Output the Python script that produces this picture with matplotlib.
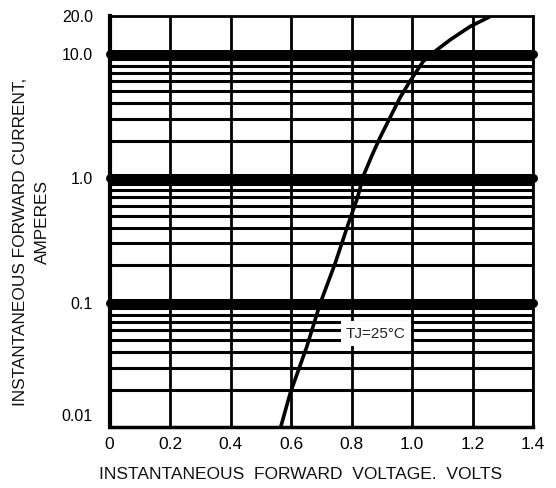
import matplotlib
matplotlib.use('Agg')
import matplotlib.pyplot as plt
from matplotlib.transforms import ScaledTranslation

plt.rcParams['font.family'] = ['Liberation Sans', 'DejaVu Sans']

# forward characteristic (volts, amperes)
vf = [0.566, 0.597, 0.652, 0.696, 0.745, 0.789, 0.820, 0.839, 0.867, 0.894,
      0.927, 0.960, 0.993, 1.037, 1.082, 1.126, 1.192, 1.252]
i_f = [0.01, 0.0186, 0.0441, 0.0978, 0.204, 0.427, 0.698, 1.04, 1.51, 2.11,
       3.05, 4.41, 5.99, 8.66, 10.7, 12.9, 16.5, 19.5]

x_ticks = [0, 0.2, 0.4, 0.6, 0.8, 1.0, 1.2, 1.4]
x_labels = ['0', '0.2', '0.4', '0.6', '0.8', '1.0', '1.2', '1.4']
y_ticks = [0.01, 0.1, 1.0, 10.0, 20.0]
y_labels = ['0.01', '0.1', '1.0', '10.0', '20.0']
decades = [0.01, 0.1, 1.0]
major_lines = [0.1, 1.0, 10.0]


def do_plot():
    fig = plt.figure(figsize=(5.56, 4.88), dpi=100)
    ax = fig.add_axes([0.197, 0.125, 0.7617, 0.842])
    ax.set_yscale('log')
    ax.set_xlim(0, 1.4)
    ax.set_ylim(0.01, 20)

    # minor horizontal grid lines 2..9 in each decade
    for d in decades:
        for k in range(2, 10):
            ax.axhline(d * k, color='black', lw=2.2, zorder=1)
    for y in major_lines:
        ax.axhline(y, color='black', lw=6.5, zorder=1, solid_capstyle='round',
                   clip_on=False)
    for x in x_ticks:
        ax.axvline(x, color='black', lw=2.0, zorder=1)

    ax.plot(vf, i_f, color='black', lw=2.6, zorder=3)

    ax.text(0.881, 0.0562, 'TJ=25°C', fontsize=11, ha='center', va='center',
            color='#222222', zorder=4,
            bbox=dict(facecolor='white', edgecolor='none', pad=4))

    ax.set_xticks(x_ticks)
    ax.set_xticklabels(x_labels)
    ax.set_yticks(y_ticks)
    ax.set_yticklabels(y_labels)
    ax.yaxis.set_minor_locator(matplotlib.ticker.NullLocator())
    ax.tick_params(length=0)
    ax.tick_params(axis='x', labelsize=12.5, pad=7)
    ax.tick_params(axis='y', labelsize=11.5, pad=12)
    lbl = ax.get_yticklabels()[0]
    lbl.set_transform(lbl.get_transform() +
                      ScaledTranslation(0, 0.12, fig.dpi_scale_trans))
    for s in ax.spines.values():
        s.set_linewidth(2)
    ax.spines['left'].set_linewidth(3)
    ax.spines['bottom'].set_linewidth(2.5)

    fig.text(0.541, 0.027, 'INSTANTANEOUS  FORWARD  VOLTAGE.  VOLTS',
             fontsize=12.5, ha='center', va='center', color='#111111')
    fig.text(0.036, 0.504, 'INSTANTANEOUS FORWARD CURRENT,', fontsize=12.4,
             rotation=90, ha='center', va='center', color='#111111')
    fig.text(0.0755, 0.545, 'AMPERES', fontsize=12.4,
             rotation=90, ha='center', va='center', color='#111111')

    fig.savefig('out.png', dpi=100)


if __name__ == '__main__':
    do_plot()
